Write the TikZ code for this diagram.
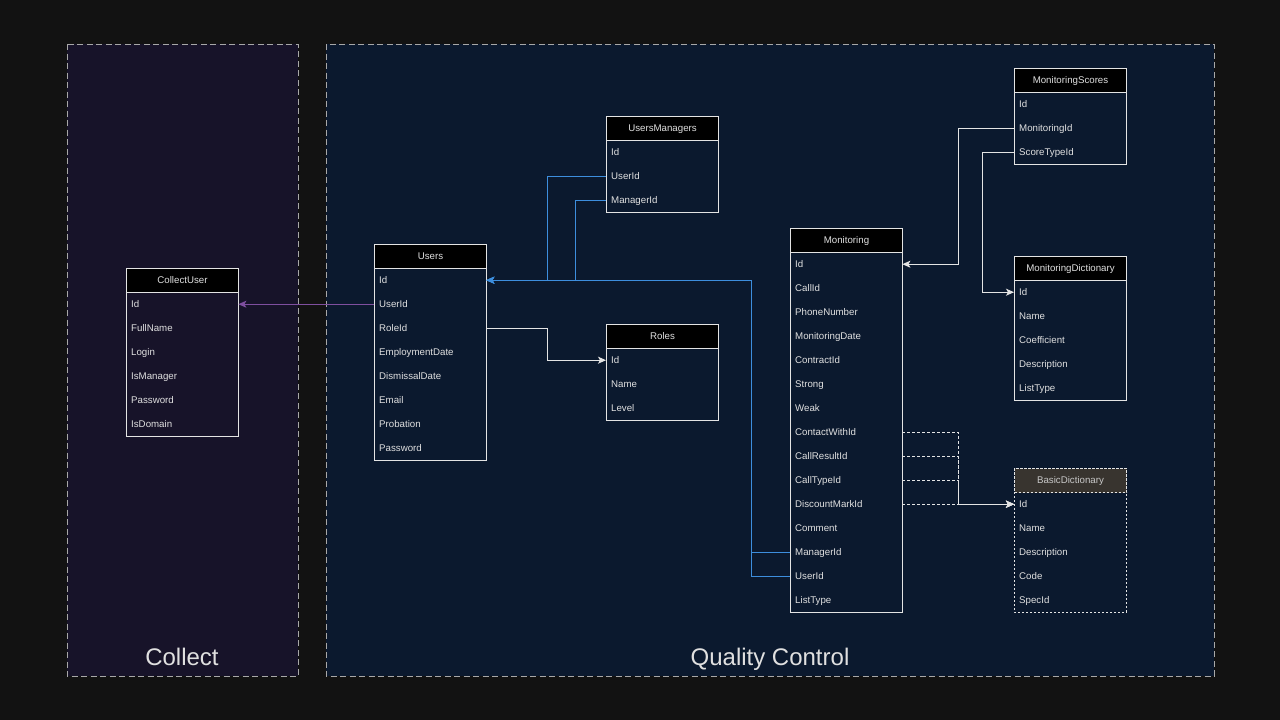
\documentclass[tikz,border=0pt]{standalone}
\usepackage{fontspec}
\setmainfont{Liberation Sans}
\usetikzlibrary{arrows.meta}
\definecolor{bgc}{HTML}{121212}
\definecolor{colpan}{HTML}{171329}
\definecolor{qcpan}{HTML}{0B192E}
\definecolor{pborder}{HTML}{A8A8A8}
\definecolor{tline}{HTML}{E4E4E4}
\definecolor{ttext}{HTML}{E0E0E0}
\definecolor{bdhead}{HTML}{38342F}
\definecolor{bdtext}{HTML}{C8C8C8}
\definecolor{bluc}{HTML}{3D8EDD}
\definecolor{purc}{HTML}{7F4F9F}
\tikzset{
  panel/.style={draw=pborder, line width=1pt, dash pattern=on 6pt off 3.5pt},
  paneltitle/.style={text=ttext, font=\fontsize{24}{28}\selectfont, text height=17pt, text depth=5pt},
  hdr/.style={draw=tline, fill=black, line width=1pt, minimum width=112pt, minimum height=24pt,
    inner sep=0pt, text=ttext, font=\fontsize{9.7}{11}\selectfont, text height=7pt, text depth=2pt},
  fld/.style={minimum height=24pt, text width=102pt, inner xsep=5pt, inner ysep=0pt, align=left,
    text=ttext, font=\fontsize{9.7}{11}\selectfont, text height=7pt, text depth=0pt},
  frame/.style={draw=tline, line width=1pt},
  arr/.style={-{Stealth[length=8pt,width=7pt,inset=2pt]}},
  whiteln/.style={draw=tline, line width=1pt, arr},
  dashln/.style={draw=tline, line width=1pt, dash pattern=on 3pt off 2pt, arr},
  bluln/.style={draw=bluc, line width=1pt, arr},
  purln/.style={draw=purc, line width=1pt, arr},
  bdhdr/.style={fill=bdhead, text=bdtext, dash pattern=on 2pt off 2pt},
  bdframe/.style={dash pattern=on 2pt off 2pt},
}
% name, x, ytop, title, number of fields, fields, header style, frame style
\newcommand\erdtable[8]{%
  \node[hdr, anchor=north west, #7] (#1-h) at (#2,#3) {#4};
  \foreach \f [count=\i] in {#6} {
    \node[fld, anchor=north west] (#1-\i) at (#2,{#3+24*\i}) {\f};
  }
  \draw[frame, #8] (#2,#3) rectangle ++(112,{24*(#5+1)});
}
\begin{document}
\begin{tikzpicture}[x=1pt,y=-1pt]
\useasboundingbox (0,0) rectangle (1280,720);
\fill[bgc] (0,0) rectangle (1280,720);
% panels
\path[panel, fill=colpan] (67,44) rectangle (298,676);
\path[panel, fill=qcpan] (326,44) rectangle (1214,676);
\node[paneltitle] (collecttitle) at (182,659) {Collect};
\node[paneltitle] (qctitle) at (770,659) {Quality Control};
% tables
\erdtable{cu}{126}{268}{CollectUser}{6}{Id,FullName,Login,IsManager,Password,IsDomain}{}{}
\erdtable{users}{374}{244}{Users}{8}{Id,UserId,RoleId,EmploymentDate,DismissalDate,Email,Probation,Password}{}{}
\erdtable{um}{606}{116}{UsersManagers}{3}{Id,UserId,ManagerId}{}{}
\erdtable{roles}{606}{324}{Roles}{3}{Id,Name,Level}{}{}
\erdtable{mon}{790}{228}{Monitoring}{15}{Id,CallId,PhoneNumber,MonitoringDate,ContractId,Strong,Weak,ContactWithId,CallResultId,CallTypeId,DiscountMarkId,Comment,ManagerId,UserId,ListType}{}{}
\erdtable{ms}{1014}{68}{MonitoringScores}{3}{Id,MonitoringId,ScoreTypeId}{}{}
\erdtable{md}{1014}{256}{MonitoringDictionary}{5}{Id,Name,Coefficient,Description,ListType}{}{}
\erdtable{bd}{1014}{468}{BasicDictionary}{5}{Id,Name,Description,Code,SpecId}{bdhdr}{bdframe}
% connectors
\draw[purln] (users-2.west) -- (cu-1.east);
\draw[bluln] (um-2.west) -- ++(-59,0) |- (users-1.east);
\draw[bluln] (um-3.west) -- ++(-31,0) |- (users-1.east);
\draw[bluln] (mon-13.west) -- ++(-39,0) |- (users-1.east);
\draw[bluln] (mon-14.west) -- ++(-39,0) |- (users-1.east);
\draw[whiteln] (users-3.east) -- ++(61,0) |- (roles-1.west);
\draw[whiteln] (ms-2.west) -- ++(-56,0) |- (mon-1.east);
\draw[whiteln] (ms-3.west) -- ++(-32,0) |- (md-1.west);
\draw[dashln] (mon-8.east) -- ++(56,0) |- (bd-1.west);
\draw[dashln] (mon-9.east) -- ++(56,0) |- (bd-1.west);
\draw[dashln] (mon-10.east) -- ++(56,0) |- (bd-1.west);
\draw[dashln] (mon-11.east) -- (bd-1.west);
\end{tikzpicture}
\end{document}
